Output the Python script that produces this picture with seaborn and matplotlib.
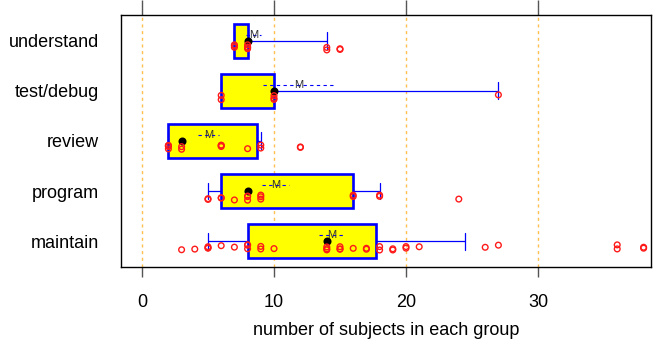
import numpy as np
import pandas as pd
import matplotlib
matplotlib.use("Agg")
import matplotlib.pyplot as plt
import seaborn as sns

categories = ["understand", "test/debug", "review", "program", "maintain"]

# five-number summaries drawn as the boxes
whisker_low = [7, 6, 2, 5, 5]
lower_quartile = [7, 6, 2, 6, 8]
medians = [8, 10, 3, 8, 14]
upper_quartile = [8, 10, 8.75, 16, 17.75]
whisker_high = [14, 27, 9, 18, 24.5]

# group means and the half-length of the dashed band around each mean
means = [8.45, 11.85, 5.05, 10.1, 14.4]
mean_band = [0.55, 2.65, 0.8, 1.0, 1.0]

# individual observations per group
understand_obs = [7, 7, 7, 8, 8, 8, 8, 14, 14, 15, 15]
testdebug_obs = [6, 6, 10, 10, 10, 27]
review_obs = [2, 2, 2, 2, 3, 3, 6, 6, 6, 8, 9, 9, 12, 12]
program_obs = [5, 5, 6, 6, 7, 8, 8, 8, 9, 9, 9, 16, 16, 18, 18, 24]
maintain_obs = [3, 4, 5, 5, 5, 6, 7, 8, 8, 8, 9, 9, 10, 14, 14, 14, 15, 15,
                15, 16, 17, 17, 18, 18, 19, 19, 20, 20, 21, 26, 27, 36, 36,
                38, 38]

x_ticks = [0, 10, 20, 30]
x_label = "number of subjects in each group"

sns.set_style("white")
plt.rcParams["font.family"] = ["Liberation Sans", "DejaVu Sans"]
plt.rcParams["text.color"] = "black"
plt.rcParams["axes.labelcolor"] = "black"
plt.rcParams["xtick.labelcolor"] = "black"
plt.rcParams["ytick.labelcolor"] = "black"

fig = plt.figure(figsize=(6.57, 3.45), dpi=100)
ax = fig.add_axes([121 / 657, 1 - 267 / 345, 530 / 657, 252 / 345])

# boxes built from the summaries: five values per group, whiskers at min/max
box_df = pd.DataFrame({
    "group": np.repeat(categories, 5),
    "value": np.ravel(np.column_stack([whisker_low, lower_quartile, medians,
                                       upper_quartile, whisker_high])),
})

# reference lines at the major ticks
for t in x_ticks:
    ax.axvline(t, color="#FFA500", alpha=0.7, linewidth=1.0,
               linestyle=(0, (2.2, 2.6)), zorder=0.5)

sns.boxplot(data=box_df, x="value", y="group", order=categories, orient="h",
            whis=(0, 100), width=0.68, color="#FFFF00", saturation=1,
            linecolor="#0000FF", showfliers=False,
            boxprops=dict(linewidth=1.9, edgecolor="#0000FF",
                          facecolor="#FFFF00"),
            whiskerprops=dict(linewidth=0.9, color="#0000FF"),
            capprops=dict(linewidth=0.9, color="#0000FF"),
            medianprops=dict(visible=False), ax=ax)

# median as a filled black dot
n0 = len(ax.collections)
med_df = pd.DataFrame({"group": categories, "value": medians})
sns.stripplot(data=med_df, x="value", y="group", order=categories,
              jitter=False, color="black", size=5.8, linewidth=0, ax=ax)
for c in ax.collections[n0:]:
    c.set_zorder(4)

# raw observations as open red circles, jittered just below the centre line
n0 = len(ax.collections)
obs_lists = [understand_obs, testdebug_obs, review_obs, program_obs,
             maintain_obs]
obs_df = pd.DataFrame({
    "group": np.repeat(categories, [len(o) for o in obs_lists]),
    "value": np.concatenate(obs_lists),
})
np.random.seed(11)
sns.stripplot(data=obs_df, x="value", y="group", order=categories,
              jitter=0.055, color="red", size=4.1, linewidth=1.0, ax=ax)
for c in ax.collections[n0:]:
    off = c.get_offsets()
    off[:, 1] = off[:, 1] + 0.13
    c.set_offsets(off)
    c.set_facecolor("none")
    c.set_edgecolor("#FF1A1A")
    c.set_linewidth(1.0)
    c.set_zorder(5)

# mean marker with its dashed band, slightly above the centre line
for i, (m, b) in enumerate(zip(means, mean_band)):
    ax.hlines(i - 0.12, m - b, m + b, colors="#0000FF",
              linestyles=(0, (3, 3)), linewidth=0.8, zorder=6)
    ax.text(m, i - 0.12, "M", ha="center", va="center", fontsize=8,
            color="#333333", zorder=7)

ax.set_xlim(-1.59, 38.56)
ax.set_ylim(4.52, -0.52)
ax.set_xticks(x_ticks)
ax.set_xticklabels([str(t) for t in x_ticks])
ax.set_xlabel(x_label, fontsize=13, labelpad=8)
ax.set_ylabel("")
ax.tick_params(axis="x", bottom=True, length=7.5, width=1.0,
               color="#555555", labelsize=13, pad=12)
ax.tick_params(axis="y", left=False, length=0, labelsize=13, pad=16)

top = ax.secondary_xaxis("top")
top.set_xticks(x_ticks)
top.tick_params(axis="x", length=11, width=1.0, color="#555555",
                labeltop=False)
for s in top.spines.values():
    s.set_visible(False)

for s in ax.spines.values():
    s.set_visible(True)
    s.set_color("black")
    s.set_linewidth(1.0)

fig.savefig("out.png", dpi=100)
